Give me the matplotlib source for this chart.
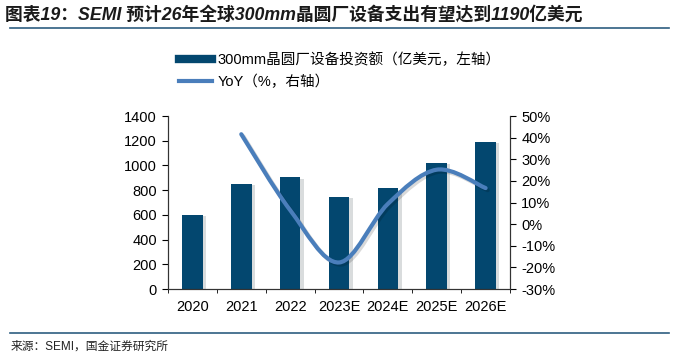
import matplotlib
matplotlib.use("Agg")
import matplotlib.pyplot as plt
import numpy as np
from matplotlib.path import Path
from matplotlib.patches import PathPatch
from matplotlib.lines import Line2D
import matplotlib.patheffects as pe

plt.rcParams['font.family'] = ['Liberation Sans', 'Noto Sans CJK SC']

years = ['2020', '2021', '2022', '2023E', '2024E', '2025E', '2026E']
invest = [600, 850, 905, 745, 815, 1020, 1190]
yoy = [np.nan, 41.6, 6.5, -17.7, 9.4, 25.2, 16.7]

bar_color = '#03476F'
line_color = '#4A7EBB'

fig = plt.figure(figsize=(6.76, 3.56), dpi=100)
ax = fig.add_axes([0.2485, 0.188, 0.506, 0.486])
ax2 = ax.twinx()

x = np.arange(len(years))
ax.bar(x, invest, width=0.42, color=bar_color, zorder=2,
       path_effects=[pe.SimplePatchShadow(offset=(2.5, -1), alpha=0.15), pe.Normal()])
ax.set_ylim(0, 1400)
ax.set_yticks(range(0, 1401, 200))
ax.set_xlim(-0.5, len(years) - 0.5)
ax.set_xticks(x)
ax.set_xticklabels(years)
ax.set_xticks(np.arange(-0.5, len(years)), minor=True)
ax.tick_params(axis='x', which='major', length=0, pad=8, labelsize=10.5)
ax.tick_params(axis='x', which='minor', length=3, direction='out')
ax.tick_params(axis='y', length=4, direction='out', labelsize=10.5, pad=4)

# smoothed YoY line (Catmull-Rom style bezier through the data points)
px = np.array([xi for xi, v in zip(x, yoy) if not np.isnan(v)], dtype=float)
py = np.array([v for v in yoy if not np.isnan(v)], dtype=float)
pts = np.column_stack([px, py])
verts = [pts[0]]
codes = [Path.MOVETO]
for i in range(len(pts) - 1):
    p0 = pts[i - 1] if i > 0 else pts[i]
    p1 = pts[i]
    p2 = pts[i + 1]
    p3 = pts[i + 2] if i + 2 < len(pts) else pts[i + 1]
    c1 = p1 + (p2 - p0) / 6.0
    c2 = p2 - (p3 - p1) / 6.0
    verts += [c1, c2, p2]
    codes += [Path.CURVE4] * 3
line_patch = PathPatch(Path(verts, codes), facecolor='none', edgecolor=line_color,
                       lw=3, capstyle='round', zorder=3,
                       path_effects=[pe.SimpleLineShadow(offset=(1.5, -1.5), alpha=0.15), pe.Normal()])
ax2.add_patch(line_patch)
ax2.set_ylim(-30, 50)
ax2.set_yticks(range(-30, 51, 10))
ax2.set_yticklabels([f'{v}%' for v in range(-30, 51, 10)])
ax2.tick_params(axis='y', length=4, direction='out', labelsize=10.5, pad=4)

for a in (ax, ax2):
    a.spines['top'].set_visible(False)
    for s in ('left', 'right', 'bottom'):
        a.spines[s].set_color('#333333')
        a.spines[s].set_linewidth(0.8)

handles = [Line2D([], [], color=bar_color, lw=6),
           Line2D([], [], color=line_color, lw=3)]
fig.legend(handles, ['300mm晶圆厂设备投资额（亿美元，左轴）', 'YoY（%，右轴）'],
           loc='upper left', bbox_to_anchor=(0.245, 0.89), frameon=False,
           fontsize=10.5, handlelength=2.3, handletextpad=0.35, labelspacing=0.55)

fig.text(0.008, 0.958, '图表19：SEMI 预计26年全球300mm晶圆厂设备支出有望达到1190亿美元',
         fontsize=12.8, fontweight='bold', style='italic', color='#1a1a1a',
         va='center', ha='left')
fig.add_artist(Line2D([0.015, 0.99], [0.92, 0.92], color='#2E5E80', lw=1.2))
fig.add_artist(Line2D([0.015, 0.99], [0.065, 0.065], color='#2E5E80', lw=1.2))
fig.text(0.015, 0.025, '来源：SEMI，国金证券研究所', fontsize=8.5, color='#222222',
         va='center', ha='left')

fig.savefig('out.png', dpi=100)
